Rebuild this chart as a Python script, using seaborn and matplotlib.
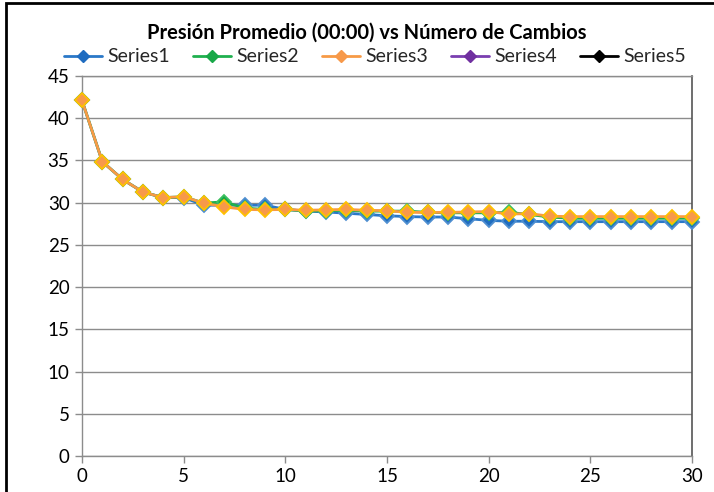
import numpy as np
import pandas as pd
import matplotlib
matplotlib.use("Agg")
import matplotlib.pyplot as plt
from matplotlib.lines import Line2D
from matplotlib.patches import Rectangle
import seaborn as sns

# Número de cambios (eje X)
cambios = list(range(0, 31))

# Presión promedio por serie
series1 = [42.1, 34.85, 32.75, 31.25, 30.6, 30.6, 29.7, 29.7, 29.7, 29.7,
           29.2, 29.0, 28.9, 28.75, 28.6, 28.45, 28.35, 28.3, 28.3, 28.1,
           27.9, 27.8, 27.8, 27.75, 27.75, 27.75, 27.75, 27.75, 27.75, 27.75, 27.75]
series2 = [42.1, 34.85, 32.75, 31.25, 30.6, 30.7, 29.95, 30.1, 29.35, 29.2,
           29.2, 29.0, 29.05, 29.1, 29.0, 29.0, 29.0, 28.85, 28.8, 28.8,
           28.8, 28.85, 28.6, 28.3, 28.15, 28.15, 28.15, 28.15, 28.15, 28.15, 28.15]
series3 = [42.1, 34.85, 32.75, 31.25, 30.6, 30.7, 29.95, 29.5, 29.2, 29.15,
           29.2, 29.1, 29.15, 29.2, 29.1, 29.05, 28.85, 28.85, 28.85, 28.9,
           28.95, 28.65, 28.7, 28.4, 28.35, 28.35, 28.35, 28.35, 28.35, 28.35, 28.35]
series4 = []
series5 = []

nombres = ["Series1", "Series2", "Series3", "Series4", "Series5"]
valores = [series1, series2, series3, series4, series5]
colores_linea = ["#2a78c8", "#1fb04e", "#f79a46", "#7a3fb0", "#000000"]
colores_relleno = ["#1f6cc0", "#18a848", "#f7994a", "#7030a0", "#000000"]
colores_borde = ["#4f8fd0", "#3cc060", "#ffc000", "#7030a0", "#000000"]

titulo = "Presión Promedio (00:00) vs Número de Cambios"
y_ticks = [0, 5, 10, 15, 20, 25, 30, 35, 40, 45]
x_ticks = [0, 5, 10, 15, 20, 25, 30]

sns.set_theme(style="white")
plt.rcParams["font.family"] = ["Lato", "DejaVu Sans"]

fig = plt.figure(figsize=(7.14, 4.92), dpi=100)
ax = fig.add_axes([82 / 714, 1 - 456 / 492, 610 / 714, 380 / 492])

for nombre, vals, cl, cf, cb in zip(nombres, valores, colores_linea,
                                    colores_relleno, colores_borde):
    if len(vals) == 0:
        continue
    df = pd.DataFrame({"Cambios": cambios[:len(vals)], "Presion": vals})
    sns.lineplot(data=df, x="Cambios", y="Presion", ax=ax, color=cl,
                 linewidth=2.0, marker="D", markersize=7, 
                 markerfacecolor=cf, markeredgecolor=cb, markeredgewidth=1.3,
                 legend=False, clip_on=False, zorder=3)

ax.set_xlim(0, 30)
ax.set_ylim(0, 45)
ax.set_xticks(x_ticks)
ax.set_yticks(y_ticks)
ax.set_xlabel("")
ax.set_ylabel("")
ax.yaxis.grid(True, color="#8c8c8c", linewidth=1.0)
ax.xaxis.grid(False)
ax.set_axisbelow(True)
for lado in ["left", "bottom", "top"]:
    ax.spines[lado].set_color("#8c8c8c")
    ax.spines[lado].set_linewidth(1.0)
ax.spines["right"].set_color("#555555")
ax.spines["right"].set_linewidth(1.2)
ax.tick_params(axis="both", which="major", direction="out", length=5,
               width=1.0, color="#8c8c8c", labelsize=13.5, labelcolor="#000000",
               bottom=True, left=True, pad=4)

fig.text(367 / 714, 1 - 33 / 492, titulo, ha="center", va="center",
         fontsize=14.5, fontweight="bold", color="#000000")

handles = []
for nombre, cl, cf, cb in zip(nombres, colores_linea, colores_relleno, colores_borde):
    handles.append(Line2D([], [], color=cl, linewidth=2.0, marker="D",
                          markersize=6, markerfacecolor=cf, markeredgecolor=cf))
fig.legend(handles, nombres, loc="center", bbox_to_anchor=(375 / 714, 1 - 57 / 492),
           ncol=5, frameon=False, fontsize=14, handlelength=1.95,
           handletextpad=0.26, columnspacing=1.2, borderaxespad=0, borderpad=0)

# marco exterior del gráfico
fig.patches.append(Rectangle((6 / 714, -0.05), 1.0, 1 - 3 / 492 + 0.05,
                             transform=fig.transFigure, fill=False,
                             edgecolor="#000000", linewidth=2.0))

fig.savefig("out.png", dpi=100)
